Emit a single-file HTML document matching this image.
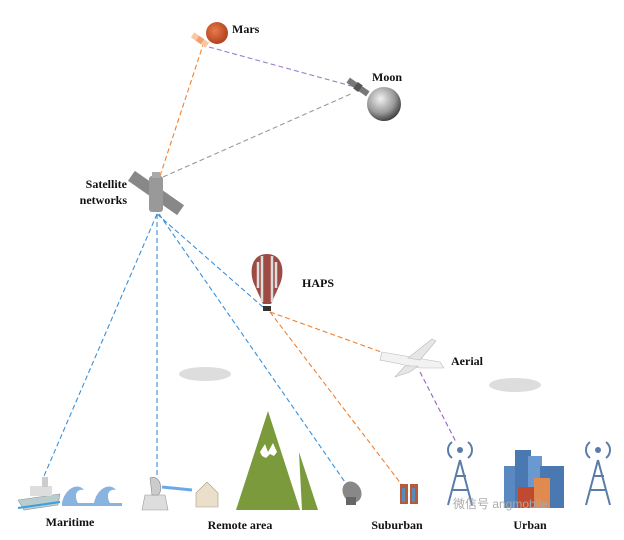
<!DOCTYPE html>
<html><head><meta charset="utf-8"><style>
html,body{margin:0;padding:0;background:#fff;}
svg{display:block;}
text{font-family:"Liberation Serif",serif;font-weight:bold;fill:#111;}
</style></head><body>
<svg width="624" height="540" viewBox="0 0 624 540" xmlns="http://www.w3.org/2000/svg">
<defs>
<radialGradient id="mars" cx="0.4" cy="0.4" r="0.7"><stop offset="0" stop-color="#e87a4a"/><stop offset="1" stop-color="#a83a18"/></radialGradient>
<radialGradient id="moon" cx="0.4" cy="0.35" r="0.7"><stop offset="0" stop-color="#f0f0f0"/><stop offset="0.6" stop-color="#999"/><stop offset="1" stop-color="#333"/></radialGradient>
</defs>
<g fill="none" stroke-width="1.1" stroke-dasharray="5,3">
<line x1="160" y1="176" x2="203" y2="45" stroke="#f08030"/>
<line x1="209" y1="47" x2="355" y2="87" stroke="#9a80c8"/>
<line x1="163" y1="177" x2="353" y2="93" stroke="#999"/>
<line x1="157" y1="214" x2="44" y2="476" stroke="#3a90d8"/>
<line x1="157" y1="214" x2="157" y2="478" stroke="#3a90d8"/>
<line x1="157" y1="214" x2="264" y2="308" stroke="#3a90d8"/>
<line x1="159" y1="214" x2="347" y2="485" stroke="#3a90d8"/>
<line x1="270" y1="312" x2="384" y2="353" stroke="#f08030"/>
<line x1="270" y1="312" x2="405" y2="489" stroke="#f08030"/>
<line x1="420" y1="372" x2="456" y2="442" stroke="#9a60c8"/>
</g>
<circle cx="217" cy="33" r="11" fill="url(#mars)"/>
<g transform="translate(200,40) rotate(35)" fill="#f8c8a0"><rect x="-9" y="-3" width="18" height="6"/><rect x="-3" y="-3" width="6" height="6" fill="#f0a070"/></g>
<text x="232" y="33" font-size="12">Mars</text>
<circle cx="384" cy="104" r="17" fill="url(#moon)"/>
<g transform="translate(358,87) rotate(35)" fill="#777"><rect x="-12" y="-3" width="24" height="6"/><rect x="-3" y="-4" width="6" height="8" fill="#555"/></g>
<text x="372" y="81" font-size="12">Moon</text>
<g transform="translate(156,193) rotate(35)"><rect x="-30" y="-6" width="60" height="12" fill="#888"/></g>
<rect x="149" y="176" width="14" height="36" rx="3" fill="#999"/>
<rect x="152" y="172" width="8" height="6" fill="#aaa"/>
<text x="127" y="188" font-size="12" text-anchor="end">Satellite</text>
<text x="127" y="204" font-size="12" text-anchor="end">networks</text>
<path d="M267,254 C283,254 285,272 280,284 L271,304 L263,304 L254,284 C249,272 251,254 267,254Z" fill="#9c4a44"/>
<path d="M262,256 L262,302 M272,256 L272,302 M258,262 L258,288 M276,262 L276,288" stroke="#ddd" stroke-width="2.5"/>
<rect x="263" y="306" width="8" height="5" fill="#333"/>
<text x="302" y="287" font-size="12">HAPS</text>
<path d="M382,352 L440,362 L444,368 L420,368 L380,360Z" fill="#f2f2f2" stroke="#bbb" stroke-width="0.6"/>
<path d="M408,358 L432,339 L436,341 L420,360Z M405,366 L395,377 L410,372 L418,366Z" fill="#e6e6e6" stroke="#bbb" stroke-width="0.6"/>
<text x="451" y="365" font-size="12">Aerial</text>
<ellipse cx="205" cy="374" rx="26" ry="7" fill="#ddd"/>
<ellipse cx="515" cy="385" rx="26" ry="7" fill="#ddd"/>
<path d="M18,500 L60,494 L58,505 L24,510Z" fill="#bcc" stroke="#8899a8" stroke-width="0.6"/>
<rect x="30" y="486" width="22" height="10" fill="#ddd"/>
<rect x="42" y="477" width="6" height="10" fill="#ccc"/>
<path d="M18,508 L60,502" stroke="#3aa0e0" stroke-width="2"/>
<path d="M62,503 C65,488 78,482 84,490 C76,488 74,496 78,503Z M94,503 C97,488 110,482 116,490 C108,488 106,496 110,503Z" fill="#8ab4e0"/>
<rect x="62" y="503" width="60" height="3" fill="#8ab4e0"/>
<text x="70" y="526" font-size="12" text-anchor="middle">Maritime</text>
<path d="M145,495 L165,495 L168,510 L142,510Z" fill="#ddd" stroke="#999" stroke-width="0.6"/>
<path d="M150,478 C160,474 164,490 158,495 L152,495Z" fill="#ccc" stroke="#888" stroke-width="0.6"/>
<path d="M162,487 L192,490" stroke="#6aa8e8" stroke-width="3"/>
<path d="M196,493 L207,482 L218,493 L218,507 L196,507Z" fill="#eadfca" stroke="#a98" stroke-width="0.6"/>
<path d="M236,510 L268,411 L300,510Z" fill="#7a9a3c"/>
<path d="M302,510 L299,452 L318,510Z" fill="#7a9a3c"/>
<path d="M260,452 L265,444 L268,452 L273,443 L277,452 L274,456 L270,454 L266,458 L262,456Z" fill="#fff"/>
<text x="240" y="529" font-size="12" text-anchor="middle">Remote area</text>
<ellipse cx="352" cy="492" rx="9" ry="11" fill="#888" transform="rotate(-30 352 492)"/>
<rect x="346" y="497" width="10" height="8" fill="#666"/>
<rect x="400" y="484" width="8" height="20" fill="#b85a3a"/><rect x="410" y="484" width="8" height="20" fill="#b85a3a"/>
<rect x="402" y="488" width="3" height="14" fill="#5a8ab8"/><rect x="412" y="488" width="3" height="14" fill="#5a8ab8"/>
<text x="397" y="529" font-size="12" text-anchor="middle">Suburban</text>
<g stroke="#5a7ca8" stroke-width="2" fill="none">
<path d="M460,460 L448,505 M460,460 L472,505 M452,490 L468,490 M455,476 L466,476"/>
<path d="M598,460 L586,505 M598,460 L610,505 M590,490 L606,490 M593,476 L604,476"/>
<path d="M452,442 A10,10 0 0 0 452,458 M468,442 A10,10 0 0 1 468,458 M590,442 A10,10 0 0 0 590,458 M606,442 A10,10 0 0 1 606,458"/>
</g>
<circle cx="460" cy="450" r="3" fill="#5a7ca8"/><circle cx="598" cy="450" r="3" fill="#5a7ca8"/>
<rect x="504" y="466" width="14" height="42" fill="#5a88c0"/>
<rect x="515" y="450" width="16" height="58" fill="#4a78b0"/>
<rect x="528" y="456" width="14" height="52" fill="#6a98d0"/>
<rect x="540" y="466" width="24" height="42" fill="#4a78b0"/>
<rect x="518" y="487" width="20" height="21" fill="#c04a30"/>
<rect x="534" y="478" width="16" height="30" fill="#e08a50"/>
<text x="453" y="508" font-size="12" style="font-family:'Liberation Sans','Noto Sans CJK SC',sans-serif;font-weight:normal;fill:#aaa">微信号 angmobile</text>
<text x="530" y="529" font-size="12" text-anchor="middle">Urban</text>
</svg>
</body></html>
